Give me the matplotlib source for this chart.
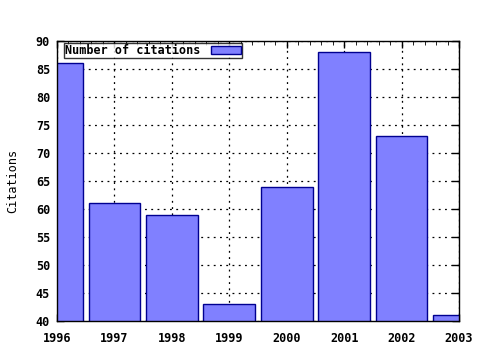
import matplotlib
matplotlib.use("Agg")
import matplotlib.pyplot as plt
import numpy as np

years = [1996, 1997, 1998, 1999, 2000, 2001, 2002, 2003]
citations = [86, 61, 59, 43, 64, 88, 73, 41]
series_label = "Number of citations"

plt.rcParams['font.family'] = 'DejaVu Sans Mono'
plt.rcParams['font.weight'] = 'bold'
plt.rcParams['font.size'] = 8.5

fig = plt.figure(figsize=(4.8, 3.5), dpi=100)
ax = fig.add_axes([57 / 480, 1 - 321 / 350, (459 - 57) / 480, (321 - 41) / 350])

ax.bar(years, citations, width=0.9, bottom=0, color="#8080ff",
       edgecolor="#000090", linewidth=1, label=series_label, zorder=2)

ax.set_xlim(1996, 2003)
ax.set_ylim(40, 90)
ax.set_xticks(years)
ax.set_xticks(np.arange(1996, 2003.01, 0.2), minor=True)
ax.set_yticks(np.arange(40, 91, 5))
ax.grid(True, which="major", color="black", linestyle=(0, (1.5, 3.5)), linewidth=0.9, zorder=0)
ax.set_axisbelow(True)
ax.tick_params(direction="in", top=True, right=True, length=5, width=1, pad=5)
ax.tick_params(axis="x", pad=8)
ax.tick_params(which="minor", direction="in", top=True, bottom=True, length=3)
for s in ax.spines.values():
    s.set_linewidth(1)
    s.set_zorder(3)

ax.set_ylabel("Citations", labelpad=12)

leg = ax.legend(loc="upper left", markerfirst=False, frameon=True, fancybox=False,
                borderpad=0.05, handlelength=2.6, handleheight=0.6, handletextpad=0.9,
                borderaxespad=0.2, bbox_to_anchor=(0.012, 1.0))
leg.get_frame().set_edgecolor("black")
leg.get_frame().set_linewidth(1)

fig.savefig("out.png", dpi=100)
